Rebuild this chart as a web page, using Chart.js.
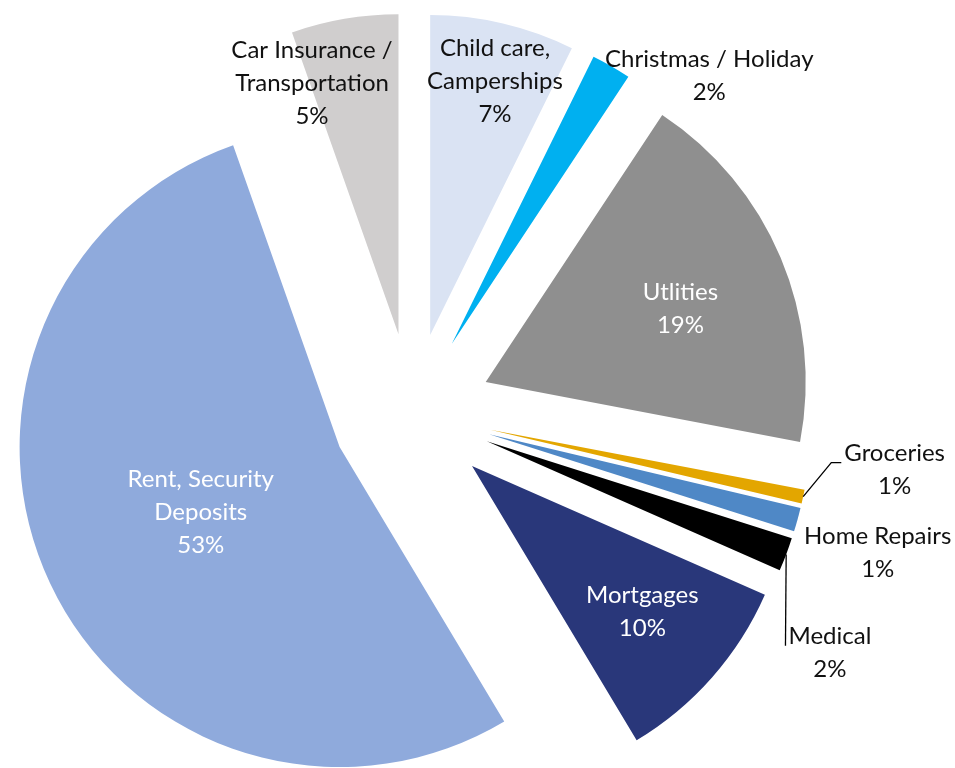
<!DOCTYPE html>
<html>
<head>
<meta charset="utf-8">
<script src="https://cdn.jsdelivr.net/npm/chart.js"></script>
<style>
    body { margin: 0; background: #fff; }
    #wrap { width: 955px; height: 768px; }
</style>
</head>
<body>
<div id="wrap"><canvas id="pieChart" width="955" height="768"></canvas></div>
<script>
    // 데이터 (clockwise from 12 o'clock)
    const categories = [
        ['Child care,', 'Camperships'],
        ['Christmas / Holiday'],
        ['Utlities'],
        ['Groceries'],
        ['Home Repairs'],
        ['Medical'],
        ['Mortgages'],
        ['Rent, Security', 'Deposits'],
        ['Car Insurance /', 'Transportation']
    ];
    const shares = [7.3, 2.0, 18.7, 0.7, 1.2, 1.7, 9.8, 53.2, 5.4];
    const sliceColors = ['#DAE3F3', '#00B0F0', '#8F8F8F', '#E3A600', '#4F88C6', '#000000', '#29377A', '#8FAADC', '#D0CECE'];

    // label placement: distance from slice tip (x radius), angle clockwise from top
    const labelSpots = [
        { r: 0.82, a: 14.3, color: '#111' },
        { r: 1.16, a: 43.9, color: '#111' },
        { r: 0.65, a: 69.4, color: '#fff' },
        { r: 1.27, a: 95.7, color: '#111', leader: 10 },
        { r: 1.27, a: 107.0, color: '#111' },
        { r: 1.26, a: 121.7, color: '#111', leader: 0 },
        { r: 0.70, a: 130.5, color: '#fff' },
        { r: 0.48, a: 244.7, color: '#fff' },
        { r: 0.83, a: 341.0, color: '#111' }
    ];

    const EXPLODE = 80;      // how far each slice is pulled out
    const RADIUS = 320;
    const FONT = '24px Lato, "Open Sans", sans-serif';
    const LINE_H = 33;
    const total = shares.reduce((a, b) => a + b, 0);

    // pull every slice out the same distance along its middle angle
    const explodePlugin = {
        id: 'explode',
        afterDatasetUpdate(chart, args) {
            chart.getDatasetMeta(args.index).data.forEach(arc => {
                const half = (arc.startAngle + arc.endAngle) / 2;
                arc.x += Math.cos(half) * EXPLODE;
                arc.y += Math.sin(half) * EXPLODE;
            });
        }
    };

    const labelPlugin = {
        id: 'sliceLabels',
        afterDatasetsDraw(chart) {
            const ctx = chart.ctx;
            const arcs = chart.getDatasetMeta(0).data;
            ctx.save();
            ctx.font = FONT;
            ctx.textAlign = 'center';
            ctx.textBaseline = 'middle';
            arcs.forEach((arc, i) => {
                const half = (arc.startAngle + arc.endAngle) / 2;
                const spot = labelSpots[i];
                const ang = spot.a * Math.PI / 180;
                const cx = arc.x + Math.sin(ang) * spot.r * arc.outerRadius;
                const cy = arc.y - Math.cos(ang) * spot.r * arc.outerRadius;
                const lines = categories[i].concat([Math.round(shares[i] / total * 100) + '%']);
                const top = cy - (lines.length - 1) * LINE_H / 2;
                ctx.fillStyle = spot.color;
                lines.forEach((t, k) => ctx.fillText(t, cx, top + k * LINE_H));

                if (spot.leader !== undefined) {
                    const w = ctx.measureText(lines[0]).width;
                    const left = cx - w / 2;
                    const edgeX = arc.x + Math.cos(half) * arc.outerRadius;
                    const edgeY = arc.y + Math.sin(half) * arc.outerRadius;
                    const ly = top + 9;
                    ctx.strokeStyle = '#000';
                    ctx.lineWidth = 1.3;
                    ctx.beginPath();
                    ctx.moveTo(edgeX, edgeY);
                    ctx.lineTo(left - 3 - spot.leader, ly);
                    ctx.lineTo(left - 3, ly);
                    ctx.stroke();
                }
            });
            ctx.restore();
        }
    };

    new Chart(document.getElementById('pieChart'), {
        type: 'pie',
        data: {
            labels: categories,
            datasets: [{
                data: shares,
                backgroundColor: sliceColors,
                borderWidth: 0
            }]
        },
        options: {
            responsive: false,
            animation: false,
            radius: RADIUS,
            layout: { padding: { left: 0, right: 131, top: 58, bottom: 0 } },
            plugins: {
                legend: { display: false },
                tooltip: { enabled: false }
            }
        },
        plugins: [explodePlugin, labelPlugin]
    });
</script>
</body>
</html>
